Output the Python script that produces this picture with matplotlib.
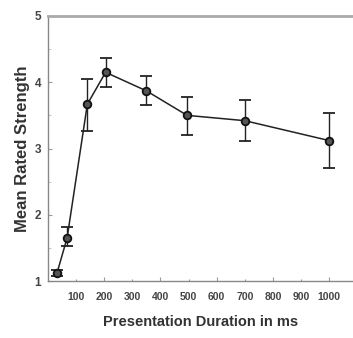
import matplotlib
matplotlib.use('Agg')
import matplotlib.pyplot as plt
import matplotlib.ticker as ticker

# presentation duration (ms) and mean rated strength with error bars
duration = [32, 68, 140, 205, 350, 495, 700, 1000]
strength = [1.12, 1.65, 3.67, 4.15, 3.87, 3.50, 3.42, 3.12]
err_low = [0.05, 0.12, 0.40, 0.22, 0.22, 0.30, 0.30, 0.41]
err_high = [0.05, 0.17, 0.38, 0.21, 0.22, 0.27, 0.31, 0.41]

x_ticks = [100, 200, 300, 400, 500, 600, 700, 800, 900, 1000]
x_labels = ['100', '200', '300', '400', '500', '600', '700', '800', '900', '1000']
y_ticks = [1, 2, 3, 4, 5]

plt.rcParams['font.family'] = ['Liberation Sans', 'DejaVu Sans']

fig = plt.figure(figsize=(3.53, 3.38), dpi=100)
ax = fig.add_axes([48 / 353, 1 - 281 / 338, 1 - 48 / 353, (281 - 16) / 338])

ax.errorbar(duration, strength, yerr=[err_low, err_high], color='#222222',
            lw=1.1, elinewidth=1.0, capsize=4.5, capthick=1.0,
            marker='o', ms=5.5, mfc='#555555', mec='#111111', mew=1.3)

ax.set_xlim(0, 1085)
ax.set_ylim(1, 5)
ax.set_xticks(x_ticks)
ax.set_xticklabels(x_labels)
ax.set_yticks(y_ticks)
ax.yaxis.set_minor_locator(ticker.MultipleLocator(0.5))

for s in ['left', 'bottom']:
    ax.spines[s].set_color('#888888')
    ax.spines[s].set_linewidth(1.0)
ax.spines['top'].set_color('#aaaaaa')
ax.spines['top'].set_linewidth(2.0)
ax.spines['right'].set_visible(False)

ax.tick_params(axis='both', direction='in', color='#999999', length=3, width=0.8,
               labelsize=7.5, labelcolor='#444444')
ax.tick_params(axis='x', pad=8)
ax.tick_params(axis='y', pad=5, labelsize=8.5)
ax.tick_params(which='minor', direction='in', color='#bbbbbb', length=2)
for lab in ax.get_xticklabels() + ax.get_yticklabels():
    lab.set_fontweight('bold')

# majors every 200 look longer than the in-between ones
for lab, t in zip(ax.xaxis.get_major_ticks(), x_ticks):
    if t % 200:
        lab.tick1line.set_markersize(1.5)

ax.set_xlabel('Presentation Duration in ms', fontsize=10.5, fontweight='bold',
              color='#333333', labelpad=9)
ax.set_ylabel('Mean Rated Strength', fontsize=12, fontweight='bold',
              color='#333333', labelpad=3)

fig.savefig('out.png', dpi=100)
